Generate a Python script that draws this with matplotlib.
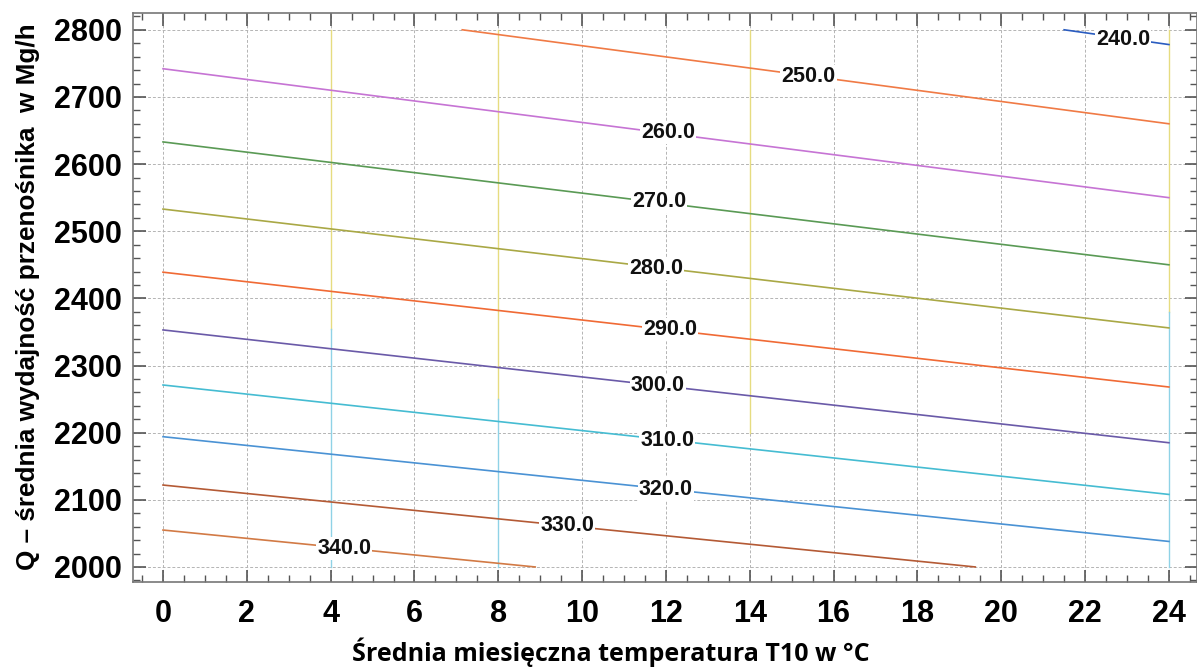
import matplotlib
matplotlib.use("Agg")
import matplotlib.pyplot as plt
from matplotlib.ticker import MultipleLocator

# contour levels and line endpoints (T in °C, Q in Mg/h)
levels = [240, 250, 260, 270, 280, 290, 300, 310, 320, 330, 340]
t_start = [21.5, 7.14, 0, 0, 0, 0, 0, 0, 0, 0, 0]
q_start = [2800, 2800, 2742, 2633, 2533, 2439, 2353, 2271, 2194, 2122, 2055]
t_end = [24, 24, 24, 24, 24, 24, 24, 24, 24, 19.38, 8.88]
q_end = [2778, 2660, 2550, 2450, 2356, 2268, 2185, 2108, 2038, 2000, 2000]
# label positions
label_t = [22.9, 15.4, 12.05, 11.84, 11.77, 12.1, 11.8, 12.03, 12.0, 9.64, 4.32]
label_q = [2785, 2730, 2647, 2544, 2445, 2354, 2270, 2189, 2116, 2061, 2028]

x_ticks = [0, 2, 4, 6, 8, 10, 12, 14, 16, 18, 20, 22, 24]
y_ticks = [2000, 2100, 2200, 2300, 2400, 2500, 2600, 2700, 2800]

colors = ["#2a5cc0", "#f07a45", "#c674d4", "#5a9a55", "#a9a845", "#f06a35",
          "#6a5aa8", "#45bcd2", "#4a92d4", "#b45a35", "#d27a45"]

fig = plt.figure(figsize=(11.97, 6.68), dpi=100)
ax = fig.add_axes([133 / 1197, 1 - 582 / 668, 1 - 133 / 1197, (582 - 13) / 668])
ax.set_xlim(-0.716, 24.67)
ax.set_ylim(1977.6, 2825)

# grid
for xt in x_ticks:
    ax.axvline(xt, color="#b4b4b4", lw=0.7, ls=(0, (3, 2)), zorder=1)
for yt in y_ticks:
    ax.axhline(yt, color="#b4b4b4", lw=0.7, ls=(0, (3, 2)), zorder=1)
# coloured grid overlays as in the original
for xt, ylo, yhi, c in [(4, 2355, 2800, "#e6dc80"), (4, 2000, 2355, "#8fd2e6"),
                        (8, 2250, 2800, "#e6dc80"), (8, 2000, 2250, "#8fd2e6"),
                        (14, 2200, 2800, "#e6dc80"),
                        (24, 2380, 2800, "#e6dc80"), (24, 2000, 2380, "#8fd2e6")]:
    ax.plot([xt, xt], [ylo, yhi], color=c, lw=1.0, zorder=1.2)

for lev, ts, qs, te, qe, c in zip(levels, t_start, q_start, t_end, q_end, colors):
    ax.plot([ts, te], [qs, qe], color=c, lw=1.2, zorder=2)

for lev, lt, lq in zip(levels, label_t, label_q):
    ax.text(lt, lq, f"{lev:.1f}", ha="center", va="center", fontsize=15.5,
            fontweight="bold", family="Liberation Sans", color="#111111", zorder=3,
            bbox=dict(boxstyle="square,pad=0.05", fc="white", ec="none"))

ax.set_xticks(x_ticks)
ax.set_yticks(y_ticks)
ax.xaxis.set_minor_locator(MultipleLocator(0.5))
ax.yaxis.set_minor_locator(MultipleLocator(20))
ax.tick_params(which="both", direction="in", top=True, right=True, colors="#555555",
               labelcolor="black")
ax.tick_params(which="major", length=9, width=1.2)
ax.tick_params(which="minor", length=5, width=1.0)
for lab in ax.get_xticklabels() + ax.get_yticklabels():
    lab.set_fontsize(22)
    lab.set_fontweight("bold")
    lab.set_family("Liberation Sans")
ax.tick_params(axis="x", pad=12)
ax.tick_params(axis="y", pad=8)

for s in ax.spines.values():
    s.set_color("#777777")
    s.set_linewidth(1.2)

fig.text(611 / 1197, 1 - 652 / 668, "Średnia miesięczna temperatura T10 w °C",
         ha="center", va="center", fontsize=18, fontweight="bold", family="Open Sans")
fig.text(28 / 1197, 1 - 297 / 668, "Q – średnia wydajność przenośnika  w Mg/h",
         ha="center", va="center", rotation=90, fontsize=18.8, fontweight="bold",
         family="Liberation Sans")

fig.savefig("out.png", dpi=100)
